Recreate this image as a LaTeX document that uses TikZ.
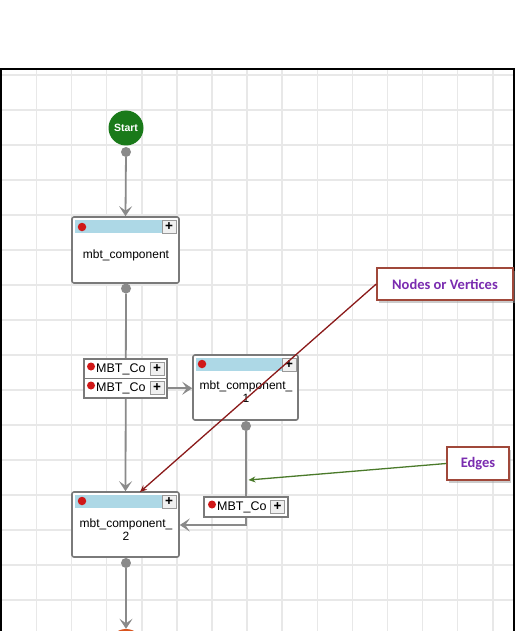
\documentclass[tikz,border=0pt]{standalone}
\usepackage{fontspec}
\setmainfont{Liberation Sans}
\newfontfamily\calib{Carlito}
\usetikzlibrary{arrows.meta,shadows}
\definecolor{gridc}{HTML}{E8E8E8}
\definecolor{linec}{HTML}{8A8A8A}
\definecolor{boxc}{HTML}{7A7A7A}
\definecolor{hdr}{HTML}{ADD8E6}
\definecolor{startg}{HTML}{1A7A1A}
\definecolor{endo}{HTML}{D9541E}
\definecolor{dotred}{HTML}{D01818}
\definecolor{callb}{HTML}{A0483A}
\definecolor{callt}{HTML}{7A2CB0}
\definecolor{arrred}{HTML}{8B1A1A}
\definecolor{arrgrn}{HTML}{4A7A2A}
\tikzset{
  comp/.style={draw=boxc, line width=1.6pt, rounded corners=2pt, fill=white, inner sep=0pt},
  conn/.style={draw=linec, line width=1.8pt, -{Stealth[length=10pt,width=13pt,inset=4.5pt]}},
  hdrbar/.style={fill=hdr},
  plusbtn/.style={draw=gray!80, fill=gray!12, line width=0.8pt, inner sep=0pt, minimum width=14pt, minimum height=13pt, font=\bfseries\fontsize{13.5}{13}\selectfont},
  portdot/.style={circle, fill=linec, inner sep=0pt, minimum size=10pt},
  reddot/.style={circle, fill=dotred, inner sep=0pt, minimum size=8.5pt},
  comptext/.style={align=center, inner sep=0pt, font=\fontsize{12}{13}\selectfont},
  rowbox/.style={draw=boxc, line width=1.4pt, fill=white, inner sep=0pt},
  rowtext/.style={anchor=west, inner sep=0pt, font=\fontsize{12.5}{13}\selectfont},
  callout/.style={draw=callb, line width=1.5pt, fill=white, inner sep=0pt,
    drop shadow={shadow xshift=2pt, shadow yshift=-3pt, fill=black!40},
    font=\calib\bfseries\fontsize{14.5}{15}\selectfont, text=callt},
  callarrow/.style={line width=1.3pt, -{Stealth[length=7pt,width=6pt]}}
}
\begin{document}
\begin{tikzpicture}[x=1pt,y=-1pt]
\path[use as bounding box, clip] (0,0) rectangle (515,631);
\fill[white] (0,0) rectangle (515,631);
% grid
\foreach \i in {0,...,13} \draw[gridc, line width=1.5pt] ({36.5+35.1*\i},69) -- ({36.5+35.1*\i},640);
\foreach \j in {0,...,16} \draw[gridc, line width=1.5pt] (1,{75+35*\j}) -- (514,{75+35*\j});
% frame
\draw[black, line width=1.2pt] (1,700) -- (1,69) -- (514,69) -- (514,700);

% start / end
\node[circle, fill=startg, minimum size=35pt, inner sep=0pt, text=white, font=\bfseries\fontsize{10.5}{11}\selectfont] (start) at (126,128) {Start};
\node[portdot] (s1) at (126,152) {};
\node[circle, fill=endo, minimum size=35pt, inner sep=0pt] (end) at (126,646.5) {};

% component boxes
\node[comp, minimum width=107pt, minimum height=66pt] (b1) at (125.5,250) {};
\node[comp, minimum width=105pt, minimum height=65pt] (b2) at (245.5,387.5) {};
\node[comp, minimum width=107pt, minimum height=65pt] (b3) at (125.5,524.5) {};

% headers
\fill[hdrbar] (75,220) rectangle (162,233);
\fill[hdrbar] (196,358) rectangle (282,371);
\fill[hdrbar] (75,495) rectangle (162,508);
\node[plusbtn] (p1) at (169,226.5) {+};
\node[plusbtn] (p2) at (289,364.5) {+};
\node[plusbtn] (p3) at (169,501.5) {+};
\node[reddot] (r1) at (82,227) {};
\node[reddot] (r2) at (202,364) {};
\node[reddot] (r3) at (82,501) {};

\node[comptext] (t1) at (126,255) {mbt\_component};
\node[comptext] (t2) at (246,391.5) {mbt\_component\_\\1};
\node[comptext] (t3) at (126,529.5) {mbt\_component\_\\2};

% port dots
\node[portdot] (d1) at (126,288.5) {};
\node[portdot] (d2) at (246,426) {};
\node[portdot] (d3) at (126,563) {};

% connectors
\draw[conn] (s1) -- (b1.north);
\draw[conn] (d1) -- (b3.north);
\coordinate (k2) at (246,525);
\draw[conn] (d2) -- (k2) -- (b3.east |- k2);
\draw[conn] (d3) -- (end.north);

% MBT rows
\node[rowbox, minimum width=83pt, minimum height=19.5pt] (m1) at (125.5,368.75) {};
\node[rowbox, minimum width=83pt, minimum height=19.5pt] (m2) at (125.5,388.25) {};
\node[reddot, minimum size=8pt] (m1r) at (91,366.5) {};
\node[reddot, minimum size=8pt] (m2r) at (91,385.5) {};
\node[rowtext] (m1t) at (96,369.5) {MBT\_Co};
\node[rowtext] (m2t) at (96,388.5) {MBT\_Co};
\node[plusbtn] (m1p) at (157,369) {+};
\node[plusbtn] (m2p) at (157,388) {+};
\draw[conn] (m2.east) -- (b2.west |- m2.east);

\node[rowbox, minimum width=84pt, minimum height=20pt] (m3) at (246,507) {};
\node[reddot, minimum size=8pt] (m3r) at (212,504.5) {};
\node[rowtext] (m3t) at (217,507.5) {MBT\_Co};
\node[plusbtn] (m3p) at (277.5,507) {+};

% callouts
\node[callout, minimum width=136pt, minimum height=32pt] (nv) at (445,284) {Nodes or Vertices};
\node[callout, minimum width=62pt, minimum height=33pt] (ed) at (478,463.5) {Edges};
\coordinate (rt) at (140,492);
\coordinate (gt) at (248.5,480);
\draw[callarrow, arrred] (nv.west) -- (rt);
\draw[callarrow, arrgrn] (ed.west) -- (gt);
\end{tikzpicture}
\end{document}
